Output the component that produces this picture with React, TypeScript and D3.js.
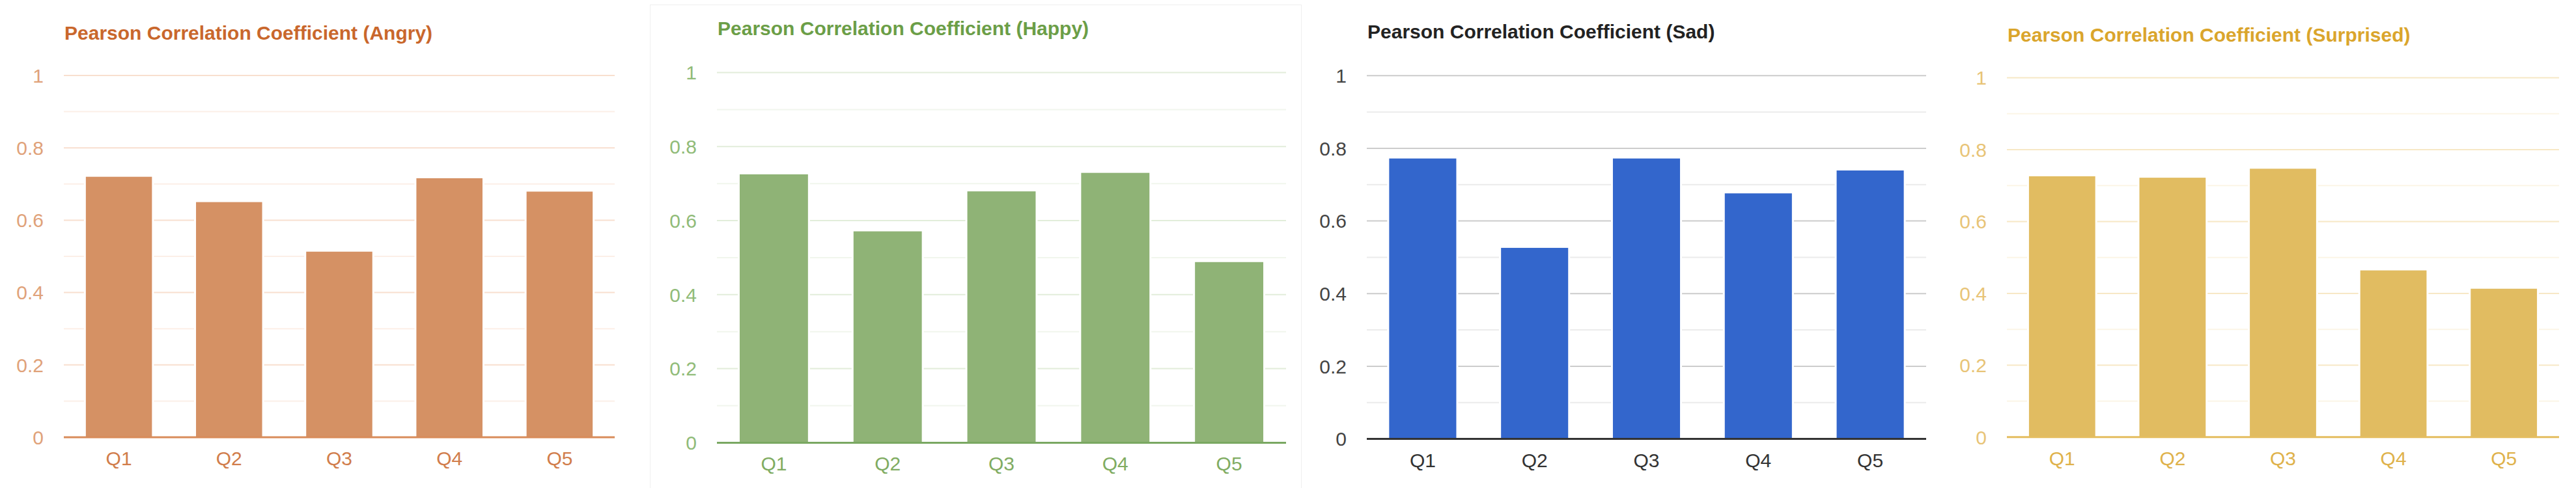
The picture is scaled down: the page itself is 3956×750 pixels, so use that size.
import * as React from 'react';
import * as d3 from 'd3';

// categories and tick values
const questions = ['Q1', 'Q2', 'Q3', 'Q4', 'Q5'];
const majorTicks = [0, 0.2, 0.4, 0.6, 0.8, 1];
const minorTicks = [0.1, 0.3, 0.5, 0.7, 0.9];

// series values
const angryValues = [0.72, 0.65, 0.513, 0.716, 0.679];
const happyValues = [0.725, 0.571, 0.679, 0.729, 0.488];
const sadValues = [0.772, 0.526, 0.772, 0.676, 0.739];
const surprisedValues = [0.726, 0.722, 0.747, 0.464, 0.413];

const titles = [
  'Pearson Correlation Coefficient (Angry)',
  'Pearson Correlation Coefficient (Happy)',
  'Pearson Correlation Coefficient (Sad)',
  'Pearson Correlation Coefficient (Surprised)',
];

interface Theme {
  bar: string;
  title: string;
  label: string;
  grid: string;
  minor: string;
  base: string;
}

interface Frame {
  left: number;
  right: number;
  top: number;
  bottom: number;
  titleY: number;
}

const themes: Theme[] = [
  { bar: '#d59164', title: '#c9672c', label: '#e0a27a', grid: '#f8dfcf', minor: '#fcefe7', base: '#d98c5a' },
  { bar: '#8fb376', title: '#6b9e47', label: '#90bb78', grid: '#e2edda', minor: '#f1f6ed', base: '#7aa862' },
  { bar: '#3366cc', title: '#222222', label: '#444444', grid: '#cccccc', minor: '#ebebeb', base: '#333333' },
  { bar: '#e1bc61', title: '#daa52c', label: '#e8c477', grid: '#f7e8c6', minor: '#fcf5e6', base: '#e4bd5f' },
];

const frames: Frame[] = [
  { left: 98, right: 944, top: 116, bottom: 672, titleY: 61 },
  { left: 1101, right: 1975, top: 111.5, bottom: 680.4, titleY: 54 },
  { left: 2099, right: 2958, top: 116.3, bottom: 674.6, titleY: 59 },
  { left: 3082, right: 3930, top: 119.6, bottom: 671.8, titleY: 63.5 },
];

const FONT = 'Arial, "Liberation Sans", sans-serif';

interface PanelProps {
  values: number[];
  title: string;
  theme: Theme;
  frame: Frame;
}

const Panel: React.FC<PanelProps> = ({ values, title, theme, frame }) => {
  const x = d3.scaleBand<string>()
    .domain(questions)
    .range([frame.left, frame.right])
    .paddingInner(0.4)
    .paddingOuter(0.2);
  const y = d3.scaleLinear().domain([0, 1]).range([frame.bottom, frame.top]);

  return (
    <g fontFamily={FONT}>
      <text x={frame.left + 1} y={frame.titleY} fontSize={30} fontWeight="bold" fill={theme.title}>
        {title}
      </text>
      {minorTicks.map(t => (
        <line key={'m' + t} x1={frame.left} x2={frame.right} y1={y(t)} y2={y(t)} stroke={theme.minor} strokeWidth={2} />
      ))}
      {majorTicks.filter(t => t > 0).map(t => (
        <line key={'g' + t} x1={frame.left} x2={frame.right} y1={y(t)} y2={y(t)} stroke={theme.grid} strokeWidth={2} />
      ))}
      {majorTicks.map(t => (
        <text key={'l' + t} x={frame.left - 31} y={y(t)} dy="0.36em" textAnchor="end" fontSize={30} fill={theme.label}>
          {d3.format('~g')(t)}
        </text>
      ))}
      {values.map((v, i) => (
        <g key={questions[i]}>
          <rect x={x(questions[i])! - 3} y={y(v) - 2} width={x.bandwidth() + 6} height={y(0) - y(v) + 2} fill="#ffffff" />
          <rect x={x(questions[i])} y={y(v)} width={x.bandwidth()} height={y(0) - y(v)} fill={theme.bar} />
        </g>
      ))}
      <line x1={frame.left} x2={frame.right} y1={y(0)} y2={y(0)} stroke={theme.base} strokeWidth={3} />
      {questions.map(q => (
        <text key={q} x={x(q)! + x.bandwidth() / 2} y={y(0) + 43} textAnchor="middle" fontSize={30} fill={theme.label === '#444444' ? '#333333' : theme.title} opacity={theme.label === '#444444' ? 1 : 0.85}>
          {q}
        </text>
      ))}
    </g>
  );
};

const series = [angryValues, happyValues, sadValues, surprisedValues];

export default function App() {
  return (
    <svg width={3956} height={750} style={{ position: 'absolute', left: 0, top: 0, background: '#ffffff' }}>
      <rect x={0} y={0} width={3956} height={750} fill="#ffffff" />
      <rect x={998.5} y={7.5} width={1000} height={760} fill="none" stroke="#efefef" strokeWidth={1} />
      {series.map((vals, i) => (
        <Panel key={i} values={vals} title={titles[i]} theme={themes[i]} frame={frames[i]} />
      ))}
    </svg>
  );
}
